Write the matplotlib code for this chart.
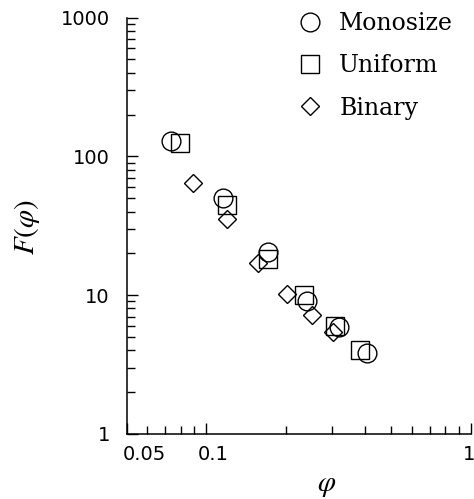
import matplotlib
matplotlib.use("Agg")
import matplotlib.pyplot as plt
import matplotlib.transforms as mtransforms
from matplotlib.ticker import NullFormatter, FixedLocator

# Data
mono_x = [0.0735, 0.1156, 0.1719, 0.2401, 0.3191, 0.405]
mono_y = [129.6, 49.8, 20.5, 9.1, 5.85, 3.80]
unif_x = [0.0797, 0.1197, 0.1719, 0.2346, 0.3074, 0.382]
unif_y = [124.1, 44.6, 18.1, 10.0, 5.98, 4.01]
bin_x = [0.0894, 0.1203, 0.1575, 0.2018, 0.2507, 0.3012]
bin_y = [64.5, 35.3, 16.9, 10.1, 7.17, 5.44]

series_labels = ["Monosize", "Uniform", "Binary"]
xtick_vals = [0.05, 0.1, 1]
xtick_labels = ["0.05", "0.1", "1"]
ytick_vals = [1, 10, 100, 1000]
ytick_labels = ["1", "10", "100", "1000"]

plt.rcParams["mathtext.fontset"] = "stix"

fig = plt.figure(figsize=(4.74, 4.99), dpi=100)
ax = fig.add_axes([126.5/474, (499-433.7)/499, (470.7-126.5)/474, (433.7-17.7)/499])

mk = dict(linestyle="none", fillstyle="none", color="black", markeredgewidth=1.0)
ax.plot(mono_x, mono_y, marker="o", markersize=13.5, label=series_labels[0], **mk)
ax.plot(unif_x, unif_y, marker="s", markersize=13, label=series_labels[1], **mk)
ax.plot(bin_x, bin_y, marker="D", markersize=9.2, label=series_labels[2], **mk)

ax.set_xscale("log")
ax.set_yscale("log")
ax.set_xlim(0.05, 1)
ax.set_ylim(1, 1000)

ax.spines["top"].set_visible(False)
ax.spines["right"].set_visible(False)
for s in ("left", "bottom"):
    ax.spines[s].set_linewidth(1.1)

ax.xaxis.set_major_locator(FixedLocator(xtick_vals))
ax.set_xticklabels(xtick_labels)
ax.yaxis.set_major_locator(FixedLocator(ytick_vals))
ax.set_yticklabels(ytick_labels)
ax.xaxis.set_minor_formatter(NullFormatter())
ax.yaxis.set_minor_formatter(NullFormatter())

ax.tick_params(which="both", direction="in", top=False, right=False, width=1.0)
ax.tick_params(which="major", length=8)
ax.tick_params(which="minor", length=5.5)
ax.tick_params(axis="x", which="major", pad=8, labelsize=14)
ax.tick_params(axis="y", which="major", pad=12, labelsize=14)

offsets_px = [18, 7, -2]
for lab, off in zip(ax.get_xticklabels(), offsets_px):
    lab.set_transform(lab.get_transform() + mtransforms.ScaledTranslation(off/100, 0, fig.dpi_scale_trans))

fig.text(27/474, 1 - 227/499, r"$F(\varphi)$", rotation=90, ha="center", va="center", fontsize=21)
fig.text(327/474, 1 - 485/499, r"$\varphi$", ha="center", va="center", fontsize=21)

ax.legend(loc="upper left", bbox_to_anchor=(298/474, 1 - 12/499), bbox_transform=fig.transFigure,
          frameon=False, handlelength=1.0, handletextpad=0.75, borderpad=0, borderaxespad=0,
          labelspacing=0.82, prop={"family": "DejaVu Serif", "size": 17}, markerscale=1.0)

fig.savefig("out.png", dpi=100)
